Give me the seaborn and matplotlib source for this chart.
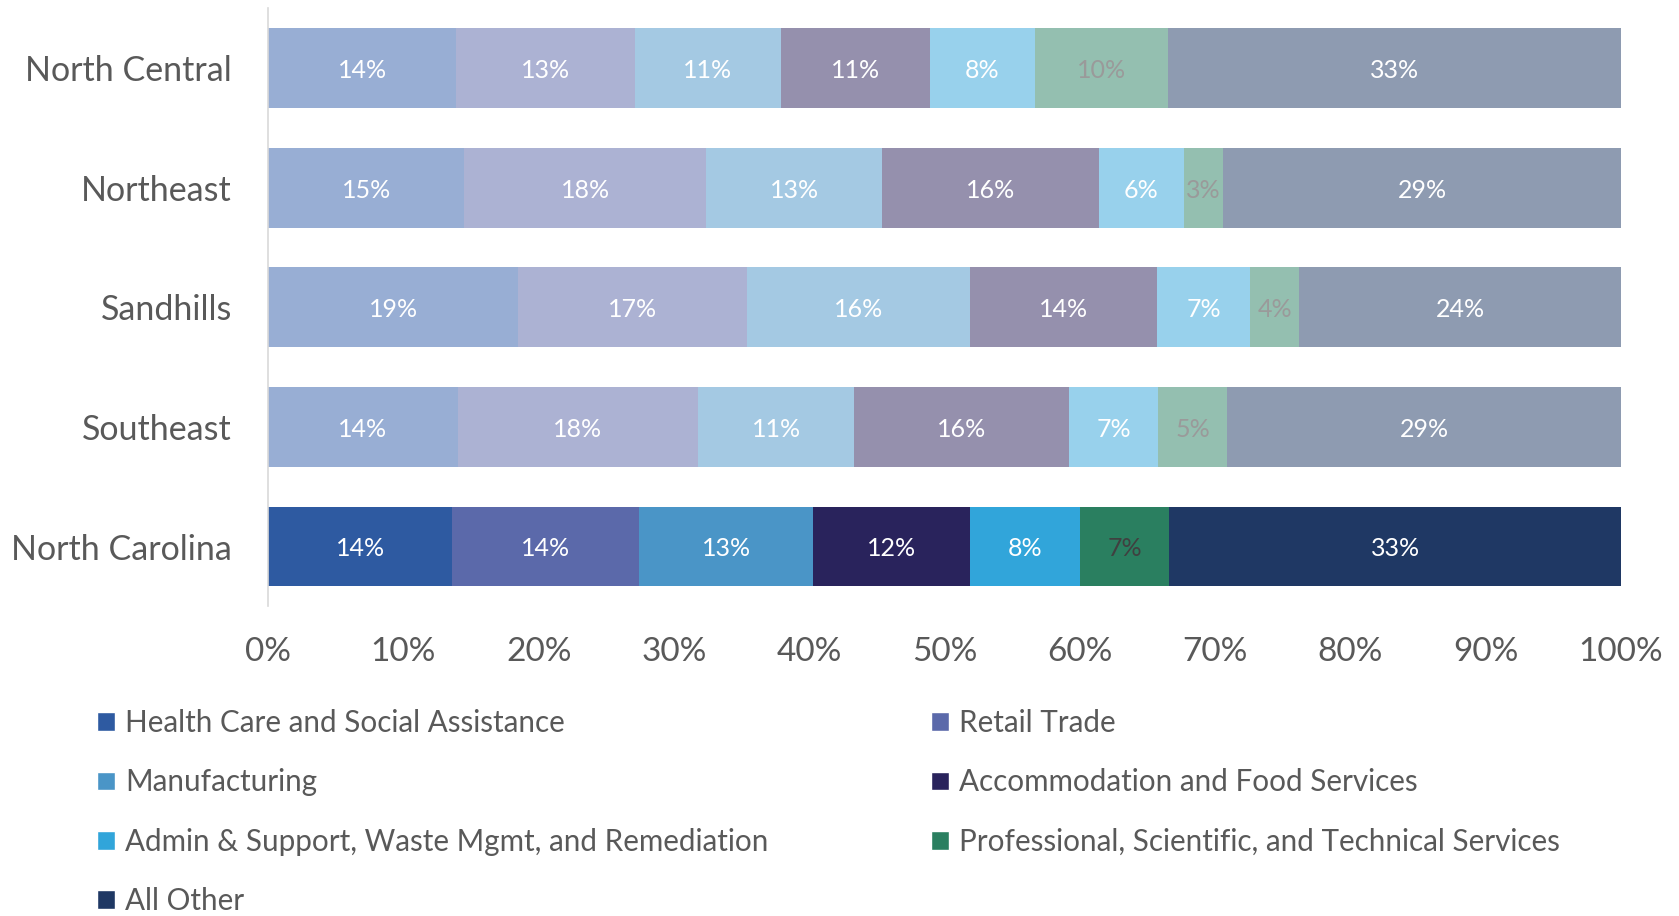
import numpy as np
import pandas as pd
import matplotlib
matplotlib.use("Agg")
import matplotlib.pyplot as plt
from matplotlib.patches import Patch
import seaborn as sns

# regions, top to bottom
regions = ["North Central", "Northeast", "Sandhills", "Southeast", "North Carolina"]
industries = [
    "Health Care and Social Assistance",
    "Retail Trade",
    "Manufacturing",
    "Accommodation and Food Services",
    "Admin & Support, Waste Mgmt, and Remediation",
    "Professional, Scientific, and Technical Services",
    "All Other",
]

# shares (%) per industry, in region order
health = [13.9, 14.5, 18.5, 14.0, 13.6]
retail = [13.2, 17.9, 16.9, 17.8, 13.8]
manufacturing = [10.8, 13.0, 16.5, 11.5, 12.9]
accommodation = [11.0, 16.0, 13.8, 15.9, 11.6]
admin = [7.8, 6.3, 6.9, 6.6, 8.1]
professional = [9.8, 2.9, 3.6, 5.1, 6.6]
all_other = [33.5, 29.4, 23.8, 29.1, 33.4]

# printed labels
label_health = ["14%", "15%", "19%", "14%", "14%"]
label_retail = ["13%", "18%", "17%", "18%", "14%"]
label_manufacturing = ["11%", "13%", "16%", "11%", "13%"]
label_accommodation = ["11%", "16%", "14%", "16%", "12%"]
label_admin = ["8%", "6%", "7%", "7%", "8%"]
label_professional = ["10%", "3%", "4%", "5%", "7%"]
label_all_other = ["33%", "29%", "24%", "29%", "33%"]

dark_colors = ["#2E5AA1", "#5B69AA", "#4A95C7", "#29235C", "#31A5DA", "#2A7F60", "#1F3864"]
light_colors = ["#98AED4", "#ACB2D3", "#A4C9E3", "#9590AD", "#98D1EC", "#94BFB0", "#8E9BB1"]

series = [health, retail, manufacturing, accommodation, admin, professional, all_other]
labels = [label_health, label_retail, label_manufacturing, label_accommodation,
          label_admin, label_professional, label_all_other]

df = pd.DataFrame(np.array(series).T, columns=industries, index=regions)
df = df.div(df.sum(axis=1), axis=0) * 100
cum = df.cumsum(axis=1)

sns.set_style("white")
plt.rcParams["font.family"] = ["Lato", "DejaVu Sans"]
text_gray = "#595959"

fig = plt.figure(figsize=(16.79, 9.16), dpi=100)
ax = fig.add_axes([0.1597, 0.338, 0.8058, 0.653])

# draw stacked bars by overlaying cumulative totals, last series first
for i in range(len(industries) - 1, -1, -1):
    col = industries[i]
    pal = {r: (dark_colors[i] if r == "North Carolina" else light_colors[i]) for r in regions}
    d = pd.DataFrame({"region": regions, "value": cum[col].values})
    sns.barplot(data=d, x="value", y="region", hue="region", palette=pal,
                order=regions, hue_order=regions, orient="h", width=0.667,
                linewidth=0, saturation=1, legend=False, ax=ax)

# data labels
for i, col in enumerate(industries):
    for j, r in enumerate(regions):
        mid = cum[col].iloc[j] - df[col].iloc[j] / 2
        if i == 5:
            c = "#404040" if r == "North Carolina" else "#9A9A9A"
        else:
            c = "white"
        ax.text(mid, j + 0.02, labels[i][j], ha="center", va="center", color=c, fontsize=18)

ax.set_xlim(0, 100)
ax.set_ylim(4.5, -0.5)
ax.set_xticks(np.arange(0, 101, 10))
ax.set_xticklabels([f"{t}%" for t in range(0, 101, 10)])
ax.set_xlabel("")
ax.set_ylabel("")
ax.tick_params(axis="x", labelsize=24, labelcolor=text_gray, length=0, pad=22)
ax.tick_params(axis="y", labelsize=24.5, labelcolor=text_gray, length=0, pad=26)
for s in ["top", "right", "bottom"]:
    ax.spines[s].set_visible(False)
ax.spines["left"].set_color("#D9D9D9")
ax.spines["left"].set_linewidth(1.2)

# legend, row-major order like the original
handles = [Patch(facecolor=dark_colors[i], label=industries[i]) for i in range(len(industries))]
order = [0, 2, 4, 6, 1, 3, 5]
fig.legend([handles[k] for k in order], [industries[k] for k in order],
           loc="upper left", bbox_to_anchor=(0.042, 0.255), ncol=2, frameon=False,
           fontsize=21.3, labelcolor=text_gray, handlelength=0.6, handleheight=0.6,
           handletextpad=0.35, columnspacing=5.5, labelspacing=1.06)

fig.savefig("out.png", dpi=100)
